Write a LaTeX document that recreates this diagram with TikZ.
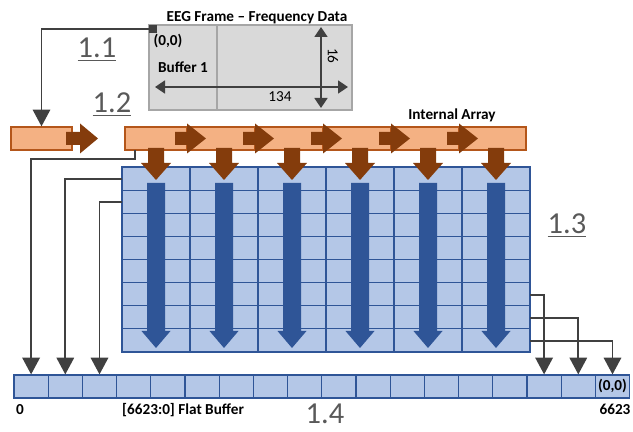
\documentclass[tikz,border=0pt]{standalone}
\usepackage{fontspec}
\setmainfont{Carlito}
\usetikzlibrary{arrows.meta}

\definecolor{boxgray}{HTML}{D9D9D9}
\definecolor{boxline}{HTML}{A6A6A6}
\definecolor{linkgray}{HTML}{404040}
\definecolor{numgray}{HTML}{595959}
\definecolor{orangefill}{HTML}{F4B183}
\definecolor{orangeline}{HTML}{B4561A}
\definecolor{arrowbrown}{HTML}{843C0C}
\definecolor{gridfill}{HTML}{B4C7E7}
\definecolor{gridline}{HTML}{2F5597}
\definecolor{arrowblue}{HTML}{2F5597}

\begin{document}
\begin{tikzpicture}[
    x=0.03cm, y=-0.03cm,
    font=\fontsize{13}{15}\selectfont,
    lbl/.style={font=\fontsize{13}{15}\selectfont\bfseries, inner sep=0pt},
    txt/.style={font=\fontsize{13}{15}\selectfont, inner sep=0pt},
    secnum/.style={text=numgray, font=\fontsize{26}{30}\selectfont, inner sep=0pt},
    link/.style={draw=linkgray, line width=1.7pt, -{Triangle[length=5mm,width=5.2mm]}},
    dim/.style={draw=linkgray, line width=1.5pt,
        {Triangle[length=3mm,width=3.9mm]}-{Triangle[length=3mm,width=3.9mm]}},
    seg/.style={draw=orangeline, fill=orangefill, line width=1.1pt},
    cell/.style={draw=gridline, fill=gridfill, line width=1pt, inner sep=0pt,
        minimum width=1.026cm, minimum height=0.69cm}
]
    \useasboundingbox (0,0) rectangle (633,432);

    % --- EEG frame (top) ---
    \node[draw=boxline, fill=boxgray, line width=1pt, inner sep=0pt,
          minimum width=6.09cm, minimum height=2.55cm] (frame) at (250.5,67.5) {};
    \draw[boxline, line width=1pt] (217,25) -- (217,110);
    \node[lbl, anchor=base] (title) at (257,22) {EEG Frame -- Frequency Data};
    \node[fill=linkgray, inner sep=0pt, minimum size=0.24cm] (origin) at (153,29) {};
    \node[lbl] (zero) at (168,41) {(0,0)};
    \node[lbl, anchor=base] (buf) at (183,73) {Buffer 1};
    \draw[dim] (155,87) -- (348,87);
    \draw[dim] (321,27) -- (321,108);
    \node[txt, anchor=base] (width) at (280,102) {134};
    \node[txt, rotate=-90] (height) at (333,56) {16};

    % --- section numbers ---
    \node[secnum, anchor=base] (s11) at (97,58) {\underline{1.1}};
    \node[secnum, anchor=base] (s12) at (112,113) {\underline{1.2}};
    \node[secnum, anchor=base] (s13) at (567,234) {\underline{1.3}};
    \node[secnum, anchor=base] (s14) at (325,424) {1.4};

    % --- input block and internal array ---
    \node[seg, inner sep=0pt, minimum width=1.83cm, minimum height=0.69cm] (blk) at (41.5,138.5) {};
    \fill[arrowbrown] (66,132) -- (80,132) -- (80,123.5) -- (98,138.5)
        -- (80,153.5) -- (80,145) -- (66,145) -- cycle;
    \foreach \a/\b in {125/187,187/255,255/323,323/391,391/459,459/526}
        \draw[seg] (\a,127) rectangle (\b,150);
    \foreach \b in {187,255,323,391,459}
        \fill[arrowbrown] (\b-12,132) -- (\b,132) -- (\b,123.5) -- (\b+19,138.5)
            -- (\b,153.5) -- (\b,145) -- (\b-12,145) -- cycle;
    \node[lbl, anchor=base] (internal) at (452,120) {Internal Array};
    \coordinate (tap) at (135,150);

    % --- 2D grid ---
    \node[draw=gridline, fill=gridfill, line width=1pt, inner sep=0pt,
          minimum width=12.24cm, minimum height=5.55cm] (grid) at (326,259.5) {};
    \foreach \i in {1,...,5}
        \draw[gridline, line width=1pt] (122+68*\i,167) -- (122+68*\i,352);
    \foreach \j in {1,...,7}
        \draw[gridline, line width=1pt] (122,167+23.125*\j) -- (530,167+23.125*\j);
    \foreach \c in {156,224,292,360,428,496} {
        \fill[arrowbrown] (\c-8,148) -- (\c+8,148) -- (\c+8,163) -- (\c+15,163)
            -- (\c,180) -- (\c-15,163) -- (\c-8,163) -- cycle;
        \fill[arrowblue] (\c-9,183) -- (\c+9,183) -- (\c+9,331) -- (\c+14.5,331)
            -- (\c,348) -- (\c-14.5,331) -- (\c-9,331) -- cycle;
    }
    \coordinate (row1) at (122,179);
    \coordinate (row2) at (122,202);
    \coordinate (row6) at (530,295);
    \coordinate (row7) at (530,318);
    \coordinate (row8) at (530,341);

    % --- flat buffer ---
    \foreach \i in {1,...,18}
        \node[cell] (cell\i) at ({14+34.2*(\i-0.5)},386.5) {};
    \node[lbl] (last) at (cell18) {(0,0)};
    \node[lbl, anchor=base] (first) at (20,415) {0};
    \node[lbl, anchor=base west] (flat) at (122,415) {[6623:0] Flat Buffer};
    \node[lbl, anchor=base] (end) at (615,415) {6623};

    % --- connectors ---
    \draw[link] (origin.west) -| (blk.north);
    \draw[link] (tap) -- ++(0,9) -| (cell1.north);
    \draw[link] (row1) -| (cell2.north);
    \draw[link] (row2) -| (cell3.north);
    \draw[link] (row6) -| (cell16.north);
    \draw[link] (row7) -| (cell17.north);
    \draw[link] (row8) -| (cell18.north);

\end{tikzpicture}
\end{document}
